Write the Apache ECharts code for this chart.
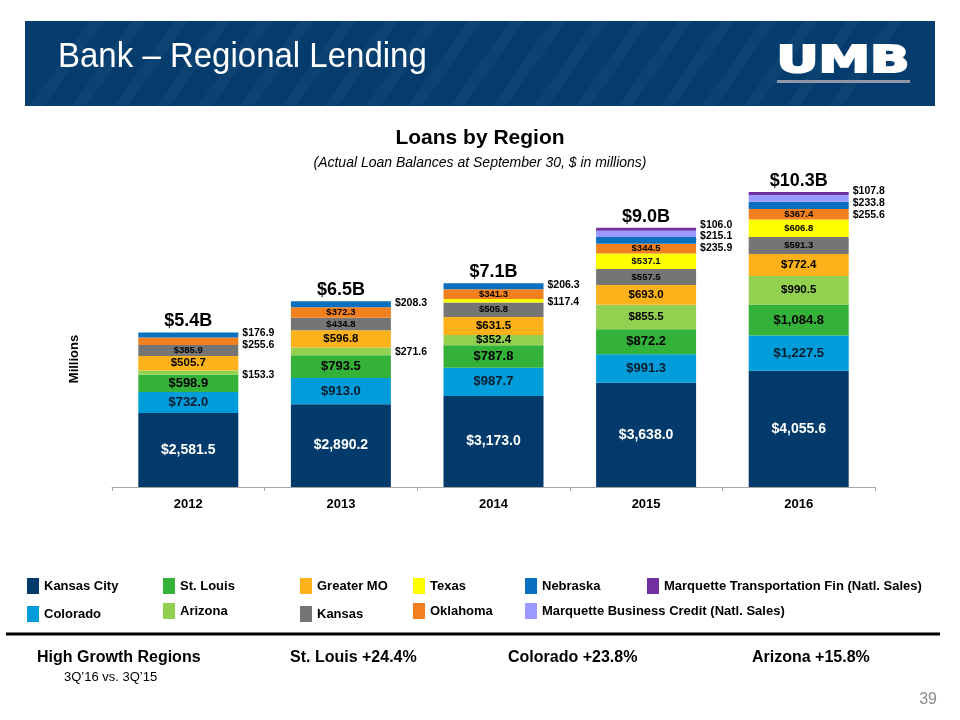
<!DOCTYPE html>
<html><head><meta charset="utf-8">
<script src="https://cdn.jsdelivr.net/npm/echarts@6/dist/echarts.min.js"></script>
<style>html,body{margin:0;padding:0;background:#fff}#c{width:960px;height:720px}</style>
</head><body><div id="c"></div>
<script>
// ---------- data ----------
const years = ['2012', '2013', '2014', '2015', '2016'];
const kansasCity = [2581.5, 2890.2, 3173.0, 3638.0, 4055.6];
const colorado = [732.0, 913.0, 987.7, 991.3, 1227.5];
const stLouis = [598.9, 793.5, 787.8, 872.2, 1084.8];
const arizona = [153.3, 271.6, 352.4, 855.5, 990.5];
const greaterMO = [505.7, 596.8, 631.5, 693.0, 772.4];
const kansas = [385.9, 434.8, 505.8, 557.5, 591.3];
const texas = [0, 0, 117.4, 537.1, 606.8];
const oklahoma = [255.6, 372.3, 341.3, 344.5, 367.4];
const nebraska = [176.9, 208.3, 206.3, 235.9, 255.6];
const marquetteBC = [0, 0, 0, 215.1, 233.8];
const marquetteTF = [0, 0, 0, 106.0, 107.8];
const growthLabels = ['St. Louis +24.4%', 'Colorado +23.8%', 'Arizona +15.8%'];

// ---------- styles ----------
const FONT = '"Liberation Sans", Arial, sans-serif';
const seriesDefs = [
  { name: 'Kansas City', data: kansasCity, color: '#023A6B', fs: 14, fc: '#ffffff' },
  { name: 'Colorado', data: colorado, color: '#019DDA', fs: 13, fc: '#0b1a2c' },
  { name: 'St. Louis', data: stLouis, color: '#33B138', fs: 13, fc: '#000' },
  { name: 'Arizona', data: arizona, color: '#92D050', fs: 11.5, fc: '#000' },
  { name: 'Greater MO', data: greaterMO, color: '#FDB21B', fs: 11.5, fc: '#000' },
  { name: 'Kansas', data: kansas, color: '#757575', fs: 9.5, fc: '#000' },
  { name: 'Texas', data: texas, color: '#FFFF00', fs: 9.5, fc: '#000' },
  { name: 'Oklahoma', data: oklahoma, color: '#F2801F', fs: 9.5, fc: '#000' },
  { name: 'Nebraska', data: nebraska, color: '#0870BE', fs: 9.5, fc: '#000' },
  { name: 'Marquette Business Credit (Natl. Sales)', data: marquetteBC, color: '#9B9BFF', fs: 9.5, fc: '#000' },
  { name: 'Marquette Transportation Fin (Natl. Sales)', data: marquetteTF, color: '#7030A0', fs: 9.5, fc: '#000' }
];
// vertical nudges of outside labels so they don't collide
const outsideShift = {
  'Nebraska': [-2, -1, -1, 8, 10],
  'Oklahoma': [4, 0, 0, 0, 0],
  'Arizona': [2, 1, 0, 0, 0],
  'Texas': [0, 0, 1, 0, 0],
  'Marquette Business Credit (Natl. Sales)': [0, 0, 0, 2, 5],
  'Marquette Transportation Fin (Natl. Sales)': [0, 0, 0, -4, -2]
};
const legendPos = [
  ['Kansas City', 27, 578], ['St. Louis', 163, 578], ['Greater MO', 300, 578],
  ['Texas', 413, 578], ['Nebraska', 525, 578], ['Marquette Transportation Fin (Natl. Sales)', 647, 578],
  ['Colorado', 27, 606], ['Arizona', 163, 603], ['Kansas', 300, 606],
  ['Oklahoma', 413, 603], ['Marquette Business Credit (Natl. Sales)', 525, 603]
];

const fmt = v => '$' + v.toLocaleString('en-US', { minimumFractionDigits: 1, maximumFractionDigits: 1 });
const totals = years.map((y, i) => seriesDefs.reduce((s, d) => s + d.data[i], 0));

const barSeries = seriesDefs.map(def => ({
  name: def.name,
  type: 'bar',
  stack: 'total',
  barWidth: 100,
  itemStyle: { color: def.color },
  emphasis: { disabled: true },
  label: { formatter: p => fmt(p.value), fontFamily: FONT, fontWeight: 'bold' },
  data: def.data.map((v, i) => {
    let label;
    if (v === 0) label = { show: false };
    else if (v < 300) label = {
      show: true, position: 'right', distance: 4,
      offset: [0, (outsideShift[def.name] || [0, 0, 0, 0, 0])[i]],
      fontSize: 10.5, color: '#000'
    };
    else label = { show: true, position: 'inside', fontSize: def.fs, color: def.fc };
    return { value: v, label };
  })
}));

const stripes = [];
for (let x = 30; x <= 860; x += 42) {
  stripes.push({
    type: 'polygon', silent: true,
    shape: { points: [[x, 106], [x + 14, 106], [x + 14 + 60, 21], [x + 60, 21]] },
    style: { fill: 'rgba(255,255,255,0.035)' }
  });
}

const option = {
  backgroundColor: '#fff',
  animation: false,
  title: [
    { text: 'Loans by Region', left: 'center', top: 123, textStyle: { fontFamily: FONT, fontSize: 21, fontWeight: 'bold', color: '#000' } },
    { text: '(Actual Loan Balances at September 30, $ in millions)', left: 'center', top: 151, textStyle: { fontFamily: FONT, fontSize: 14, fontStyle: 'italic', fontWeight: 'normal', color: '#000' } }
  ],
  legend: legendPos.map(([name, left, top]) => ({
    data: [name], left, top, padding: 0, itemWidth: 12, itemHeight: 16, icon: 'rect',
    selectedMode: false,
    textStyle: { fontFamily: FONT, fontSize: 13, fontWeight: 'bold', color: '#000' }
  })),
  grid: { left: 112, right: 85, top: 143, bottom: 233, containLabel: false },
  xAxis: {
    type: 'category', data: years,
    axisLine: { lineStyle: { color: '#A6A6A6', width: 1 } },
    axisTick: { show: true, length: 4, lineStyle: { color: '#A6A6A6' } },
    axisLabel: { fontFamily: FONT, fontSize: 13, fontWeight: 'bold', color: '#000', margin: 11 }
  },
  yAxis: { type: 'value', min: 0, max: 12000, show: false },
  series: [
    ...barSeries,
    {
      name: 'Total', type: 'scatter', symbolSize: 0, silent: true, z: 10,
      itemStyle: { opacity: 1 },
      data: totals,
      label: {
        show: true, position: 'top', distance: 2,
        formatter: p => '$' + (p.value / 1000).toFixed(1) + 'B',
        fontFamily: FONT, fontSize: 18, fontWeight: 'bold', color: '#000', opacity: 1
      }
    }
  ],
  graphic: [
    { type: 'rect', silent: true, shape: { x: 25, y: 21, width: 910, height: 85 }, style: { fill: '#043D6D' } },
    ...stripes,
    { type: 'text', silent: true, x: 58, y: 57, scaleY: 1.05, style: { text: 'Bank – Regional Lending', fill: '#fff', font: '33px ' + FONT, verticalAlign: 'middle' } },
    { type: 'text', silent: true, x: 843, y: 62, scaleX: 1.4, style: { text: 'UMB', fill: '#fff', stroke: '#fff', lineWidth: 2, font: '900 37px "DejaVu Sans", sans-serif', textAlign: 'center', verticalAlign: 'middle' } },
    { type: 'rect', silent: true, shape: { x: 777, y: 80, width: 133, height: 3 }, style: { fill: '#8D97A8' } },
    { type: 'text', silent: true, x: 74, y: 359, rotation: Math.PI / 2, style: { text: 'Millions', fill: '#000', font: 'bold 13px ' + FONT, textAlign: 'center', verticalAlign: 'middle' } },
    { type: 'line', silent: true, shape: { x1: 6, y1: 634, x2: 940, y2: 634 }, style: { stroke: '#000', lineWidth: 3 } },
    { type: 'text', silent: true, x: 37, y: 658, style: { text: 'High Growth Regions', fill: '#000', font: 'bold 16px ' + FONT, verticalAlign: 'middle' } },
    { type: 'text', silent: true, x: 64, y: 677, style: { text: '3Q’16 vs. 3Q’15', fill: '#000', font: '13px ' + FONT, verticalAlign: 'middle' } },
    { type: 'text', silent: true, x: 290, y: 658, style: { text: growthLabels[0], fill: '#000', font: 'bold 16px ' + FONT, verticalAlign: 'middle' } },
    { type: 'text', silent: true, x: 508, y: 658, style: { text: growthLabels[1], fill: '#000', font: 'bold 16px ' + FONT, verticalAlign: 'middle' } },
    { type: 'text', silent: true, x: 752, y: 658, style: { text: growthLabels[2], fill: '#000', font: 'bold 16px ' + FONT, verticalAlign: 'middle' } },
    { type: 'text', silent: true, x: 937, y: 700, style: { text: '39', fill: '#8C8C8C', font: '16px ' + FONT, textAlign: 'right', verticalAlign: 'middle' } }
  ]
};

const chart = echarts.init(document.getElementById('c'), null, { renderer: 'canvas' });
chart.setOption(option);
</script>
</body></html>
